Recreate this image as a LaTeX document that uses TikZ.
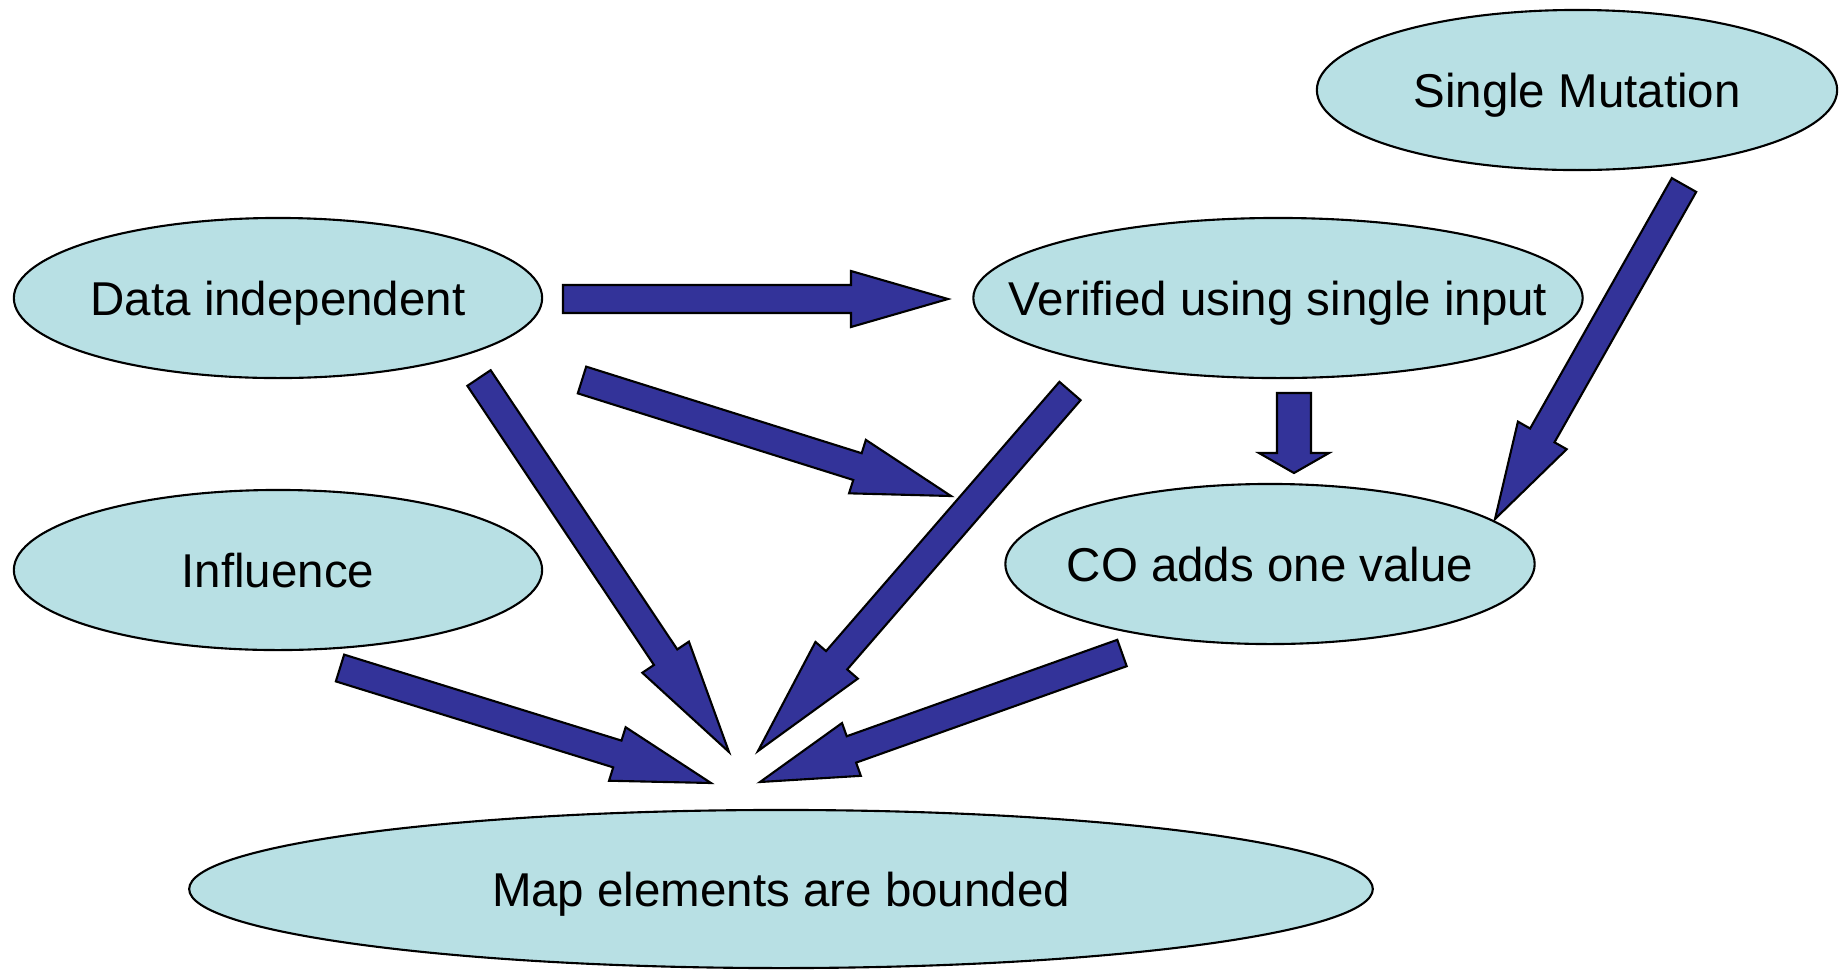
\documentclass[tikz,border=0pt]{standalone}
\usepackage{fontspec}
\setmainfont{Liberation Sans}
\usetikzlibrary{shapes.geometric,calc}
\definecolor{bubble}{HTML}{B8E0E4}
\definecolor{arrowblue}{HTML}{333399}
\newcommand{\sw}{.14cm}\newcommand{\hw}{.28cm}
\newcommand{\lbl}[1]{\makebox[0pt]{#1}}
\newcommand{\fatarrow}[3][.97cm]{%
  \coordinate (hb) at ($(#3)!#1!(#2)$);
  \draw[fat] ($(#2)!\sw!90:(#3)$)--($(hb)!\sw!90:(#3)$)--($(hb)!\hw!90:(#3)$)--(#3)--($(hb)!\hw!-90:(#3)$)--($(hb)!\sw!-90:(#3)$)--($(#2)!\sw!-90:(#3)$)--cycle;}

\begin{document}
\begin{tikzpicture}[x=.01cm,y=-.01cm,
  bub/.style={ellipse,draw,fill=bubble,line width=.6pt,inner sep=0pt,minimum height=1.6cm,text height=.97em,text depth=0pt,font=\fontsize{13.5}{16}\selectfont},
  fat/.style={draw,fill=arrowblue,line width=.6pt,line join=miter}]
\useasboundingbox (0,0) rectangle (1839,969);
\node[bub,minimum width=5.2cm] (sm) at (1577,90) {\lbl{Single Mutation}};
\node[bub,minimum width=5.28cm] (di) at (278,298) {\lbl{Data independent}};
\node[bub,minimum width=6.09cm] (vs) at (1278,298) {\lbl{Verified using single input}};
\node[bub,minimum width=5.28cm] (inf) at (278,570) {\lbl{Influence}};
\node[bub,minimum width=5.29cm] (co) at (1270,564) {\lbl{CO adds one value}};
\node[bub,minimum width=11.83cm,minimum height=1.58cm] (map) at (781,889) {\lbl{Map elements are bounded}};
% arrow ends
\coordinate (s1) at (563,299); \coordinate (e1) at (948,299);
\coordinate (s2) at (582,380); \coordinate (e2) at (951,496);
\coordinate (s3) at (479,378); \coordinate (e3) at (729,752);
\coordinate (s4) at (1070,391); \coordinate (e4) at (758,751);
\coordinate (s5) at (1294,393); \coordinate (e5) at (1294,473);
\coordinate (s6) at (1684,185); \coordinate (e6) at (1495,519);
\coordinate (s7) at (340,668); \coordinate (e7) at (711,783);
\coordinate (s8) at (1122,653); \coordinate (e8) at (760,782);
\foreach \a/\b/\h in {s1/e1/.97cm,s2/e2/.98cm,s3/e3/1.14cm,s4/e4/1.2cm,s6/e6/.96cm,s7/e7/.98cm,s8/e8/.97cm}{\fatarrow[\h]{\a}{\b}}
{\renewcommand{\sw}{.17cm}\renewcommand{\hw}{.35cm}\fatarrow[.2cm]{s5}{e5}}
\end{tikzpicture}
\end{document}
